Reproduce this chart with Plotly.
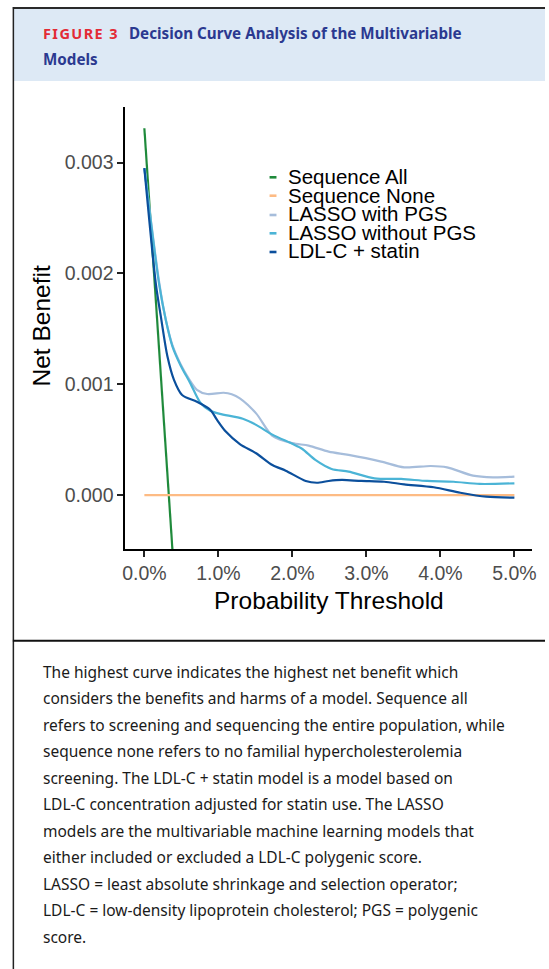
import plotly.graph_objects as go

# ---------------- data (thresholds in fraction, net benefit) ----------------
seq_all_x = [0.0, 0.0038]
seq_all_y = [0.00331, -0.00050]

seq_none_x = [0.0, 0.05]
seq_none_y = [0.0, 0.0]

lasso_pgs_x = [0.0, 0.0020, 0.0029, 0.0038, 0.0049, 0.0060, 0.0071, 0.0085, 0.0107, 0.0118,
               0.0129, 0.0151, 0.0173, 0.0200, 0.0222, 0.0249, 0.0276, 0.0320, 0.0351,
               0.0387, 0.0409, 0.0444, 0.0471, 0.0500]
lasso_pgs_y = [0.00295, 0.00192, 0.00158, 0.00135, 0.00118, 0.00105, 0.000950, 0.000912,
               0.000923, 0.000910, 0.000873, 0.000737, 0.000535, 0.000468, 0.000446,
               0.000392, 0.000362, 0.000302, 0.000250, 0.000262, 0.000250, 0.000175,
               0.000160, 0.000166]

lasso_nopgs_x = [0.0, 0.0020, 0.0029, 0.0038, 0.0049, 0.0062, 0.0076, 0.0089, 0.0102, 0.0133,
                 0.0151, 0.0173, 0.0200, 0.0213, 0.0231, 0.0253, 0.0276, 0.0311, 0.0347,
                 0.0382, 0.0418, 0.0453, 0.0500]
lasso_nopgs_y = [0.00295, 0.00190, 0.00158, 0.00134, 0.00117, 0.00101, 0.000830, 0.000760,
                 0.000733, 0.000688, 0.000633, 0.000545, 0.000462, 0.000418, 0.000317,
                 0.000235, 0.000211, 0.000151, 0.000145, 0.000127, 0.000120, 0.000100,
                 0.000106]

ldl_x = [0.0, 0.00156, 0.00223, 0.00312, 0.0040, 0.0051, 0.0071, 0.0089, 0.0098, 0.0110,
         0.0129, 0.0151, 0.0173, 0.0191, 0.0218, 0.0233, 0.0249, 0.0267, 0.0293, 0.0324,
         0.0351, 0.0391, 0.0427, 0.0462, 0.0500]
ldl_y = [0.00295, 0.00190, 0.00161, 0.00125, 0.00104, 0.000903, 0.000842, 0.000770, 0.000680,
         0.000573, 0.000460, 0.000377, 0.000271, 0.000220, 0.000127, 0.000111, 0.000127,
         0.000136, 0.000127, 0.000120, 0.000097, 0.000070, 0.000021, -0.000015, -0.000024]

series_names = ["Sequence All", "Sequence None", "LASSO with PGS", "LASSO without PGS", "LDL-C + statin"]
series_colors = ["#1f8a3b", "#fdbb84", "#a6bddb", "#4bb4d6", "#0b4f9c"]

x_tick_vals = [0.0, 0.01, 0.02, 0.03, 0.04, 0.05]
x_tick_text = ["0.0%", "1.0%", "2.0%", "3.0%", "4.0%", "5.0%"]
y_tick_vals = [0.0, 0.001, 0.002, 0.003]
y_tick_text = ["0.000", "0.001", "0.002", "0.003"]

caption_lines = [
    "The highest curve indicates the highest net benefit which",
    "considers the benefits and harms of a model. Sequence all",
    "refers to screening and sequencing the entire population, while",
    "sequence none refers to no familial hypercholesterolemia",
    "screening. The LDL-C + statin model is a model based on",
    "LDL-C concentration adjusted for statin use. The LASSO",
    "models are the multivariable machine learning models that",
    "either included or excluded a LDL-C polygenic score.",
    "LASSO = least absolute shrinkage and selection operator;",
    "LDL-C = low-density lipoprotein cholesterol; PGS = polygenic",
    "score.",
]

# ---------------- layout helpers ----------------
W, H = 549, 969


def X(px):
    return px / W


def Y(py):
    return 1 - py / H


fig = go.Figure()
data = [
    (seq_all_x, seq_all_y),
    (seq_none_x, seq_none_y),
    (lasso_pgs_x, lasso_pgs_y),
    (lasso_nopgs_x, lasso_nopgs_y),
    (ldl_x, ldl_y),
]
for (xs, ys), name, col in zip(data, series_names, series_colors):
    fig.add_trace(go.Scatter(
        x=xs, y=ys, mode="lines", name=name,
        line=dict(color=col, width=2.2, shape="spline", smoothing=0.8),
        showlegend=False, hoverinfo="skip",
    ))

axis_font = dict(family="Liberation Sans, Arial, sans-serif", size=19.5, color="#4d4d4d")

fig.update_layout(
    width=W, height=H,
    margin=dict(l=0, r=0, t=0, b=0),
    paper_bgcolor="white", plot_bgcolor="white",
    xaxis=dict(
        domain=[X(124), X(536)], range=[-0.00256, 0.05240],
        tickvals=x_tick_vals, ticktext=x_tick_text,
        showline=True, linecolor="black", linewidth=2,
        ticks="outside", ticklen=6, tickwidth=1.8, tickcolor="#222",
        showgrid=False, zeroline=False, tickfont=axis_font,
    ),
    yaxis=dict(
        domain=[Y(549), Y(107)], range=[-0.000487, 0.003502],
        tickvals=y_tick_vals, ticktext=y_tick_text,
        showline=True, linecolor="black", linewidth=2,
        ticks="outside", ticklen=6, tickwidth=1.8, tickcolor="#222",
        showgrid=False, zeroline=False, tickfont=axis_font,
    ),
)

shapes = [
    # header band
    dict(type="rect", xref="paper", yref="paper", x0=X(10.5), x1=1.0, y0=Y(81), y1=Y(8.5),
         fillcolor="#dde9f5", line=dict(width=0), layer="below"),
    # frame lines
    dict(type="line", xref="paper", yref="paper", x0=X(10), x1=1.0, y0=Y(8), y1=Y(8),
         line=dict(color="#2a2a2a", width=2)),
    dict(type="line", xref="paper", yref="paper", x0=X(10.5), x1=X(10.5), y0=Y(7), y1=0,
         line=dict(color="#222222", width=1.5)),
    dict(type="line", xref="paper", yref="paper", x0=X(10), x1=1.0, y0=Y(640.7), y1=Y(640.7),
         line=dict(color="#111111", width=2)),
]

ann = []
# header
head_font_size = 15.2
ann.append(dict(
    xref="paper", yref="paper", x=X(38), y=Y(33), xanchor="left", yanchor="middle",
    text="<b><span style='letter-spacing:1.4px'>FIGURE 3</span></b>",
    font=dict(family="Noto Sans, sans-serif", size=14.5, color="#e32b36"), showarrow=False))
ann.append(dict(
    xref="paper", yref="paper", x=X(126), y=Y(33), xanchor="left", yanchor="middle",
    text="<b>Decision Curve Analysis of the Multivariable</b>",
    font=dict(family="Noto Sans, sans-serif", size=head_font_size, color="#2b3990"), showarrow=False))
ann.append(dict(
    xref="paper", yref="paper", x=X(38), y=Y(59), xanchor="left", yanchor="middle",
    text="<b>Models</b>",
    font=dict(family="Noto Sans, sans-serif", size=head_font_size, color="#2b3990"), showarrow=False))

# axis titles
title_font = dict(family="Liberation Sans, Arial, sans-serif", size=24.5, color="black")
ann.append(dict(xref="paper", yref="paper", x=X(330.5), y=Y(600), xanchor="center", yanchor="middle",
                text="Probability Threshold", font=title_font, showarrow=False))
ann.append(dict(xref="paper", yref="paper", x=X(40), y=Y(326), xanchor="center", yanchor="middle",
                text="Net Benefit", textangle=-90, font=title_font, showarrow=False))

# legend (keys + labels)
leg_text_y = [176.5, 195.0, 213.5, 232.0, 250.5]
leg_key_y = [177.3, 195.7, 215.0, 233.3, 252.0]
leg_font = dict(family="Liberation Sans, Arial, sans-serif", size=20.5, color="black")
for name, col, ty, ky in zip(series_names, series_colors, leg_text_y, leg_key_y):
    shapes.append(dict(type="line", xref="paper", yref="paper", x0=X(270), x1=X(277),
                       y0=Y(ky), y1=Y(ky), line=dict(color=col, width=2.6)))
    ann.append(dict(xref="paper", yref="paper", x=X(287), y=Y(ty), xanchor="left", yanchor="middle",
                    text=name, font=leg_font, showarrow=False))

# caption
cap_font = dict(family="Noto Sans, sans-serif", size=15.5, color="#1a1a1a")
for i, line in enumerate(caption_lines):
    ann.append(dict(xref="paper", yref="paper", x=X(38), y=Y(671.7 + 26.5 * i), xanchor="left",
                    yanchor="middle", text=line, font=cap_font, showarrow=False))

fig.update_layout(shapes=shapes, annotations=ann)
fig.write_html(
    "out.html",
    config={"displayModeBar": False},
    post_script="document.body.style.margin='0';document.body.style.overflow='hidden';",
)
